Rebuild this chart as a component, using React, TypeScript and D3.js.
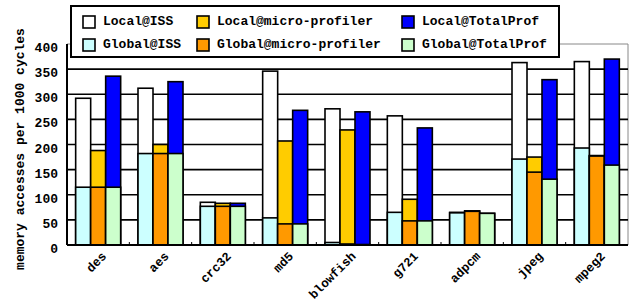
import React from 'react';
import * as d3 from 'd3';

const categories = ['des', 'aes', 'crc32', 'md5', 'blowfish', 'g721', 'adpcm', 'jpeg', 'mpeg2'];

// Local = full bar (drawn behind), Global = overlaid from the bottom
const localISS = [292, 312, 85, 346, 271, 257, 65, 363, 365];
const globalISS = [115, 182, 77, 54, 5, 65, 64, 171, 193];
const localMicro = [188, 200, 83, 207, 229, 91, 68, 175, 178];
const globalMicro = [115, 182, 77, 42, 2, 48, 67, 145, 177];
const localTotal = [336, 325, 83, 268, 265, 233, 63, 329, 370];
const globalTotal = [115, 182, 77, 42, 1, 48, 63, 131, 159];

const yTicks = [0, 50, 100, 150, 200, 250, 300, 350, 400];

const tools = [
  { local: localISS, global: globalISS, localName: 'Local@ISS', globalName: 'Global@ISS', localColor: '#ffffff', globalColor: '#ccffff' },
  { local: localMicro, global: globalMicro, localName: 'Local@micro-profiler', globalName: 'Global@micro-profiler', localColor: '#ffcc00', globalColor: '#ff9900' },
  { local: localTotal, global: globalTotal, localName: 'Local@TotalProf', globalName: 'Global@TotalProf', localColor: '#0000ff', globalColor: '#ccffcc' },
];

const font = "'Liberation Mono', 'DejaVu Sans Mono', monospace";

const App = () => {
  const width = 636;
  const height = 302;
  const margin = { top: 44, right: 8, bottom: 57, left: 67 };

  const x = d3
    .scaleBand()
    .domain(categories)
    .range([margin.left, width - margin.right])
    .padding(0);

  const y = d3
    .scaleLinear()
    .domain([0, 400])
    .range([height - margin.bottom, margin.top]);

  const barW = 15;
  const offset = (x.bandwidth() - barW * 3) / 2;

  const legendCols = [83, 197, 402];
  const legendRows = [16, 39];

  return (
    <div style={{ position: 'absolute', left: 0, top: 0 }}>
      <svg width={width} height={height} style={{ display: 'block', background: '#fff' }}>
        {/* frame */}
        <line x1={x.range()[0]} x2={x.range()[1]} y1={y(400)} y2={y(400)} stroke="#888" strokeWidth={1} />
        <line x1={x.range()[1]} x2={x.range()[1]} y1={y(400)} y2={y(0)} stroke="#888" strokeWidth={1} />

        {/* gridlines */}
        {yTicks.filter((t) => t > 0 && t < 400).map((t) => (
          <line key={t} x1={x.range()[0]} x2={x.range()[1]} y1={y(t)} y2={y(t)} stroke="#000" strokeWidth={1.6} />
        ))}

        {/* bars */}
        {categories.map((c, i) => (
          <g key={c}>
            {tools.map((tool, j) => {
              const bx = (x(c) as number) + offset + j * barW;
              return (
                <g key={j}>
                  <rect x={bx} y={y(tool.local[i])} width={barW} height={y(0) - y(tool.local[i])} fill={tool.localColor} stroke="#000" strokeWidth={1.6} />
                  <rect x={bx} y={y(tool.global[i])} width={barW} height={y(0) - y(tool.global[i])} fill={tool.globalColor} stroke="#000" strokeWidth={1.6} />
                </g>
              );
            })}
          </g>
        ))}

        {/* axes */}
        <line x1={x.range()[0]} x2={x.range()[1]} y1={y(0)} y2={y(0)} stroke="#000" strokeWidth={2} />
        <line x1={x.range()[0]} x2={x.range()[0]} y1={y(400)} y2={y(0)} stroke="#000" strokeWidth={2} />
        {categories.slice(1).map((c) => (
          <line key={c} x1={x(c) as number} x2={x(c) as number} y1={y(0)} y2={y(0) - 3} stroke="#000" strokeWidth={1} />
        ))}

        {yTicks.map((t) => (
          <text key={t} x={58} y={y(t) + 4.5} textAnchor="end" dominantBaseline="central" fontFamily={font} fontWeight="bold" fontSize={13}>
            {t}
          </text>
        ))}

        {categories.map((c) => {
          const cx = (x(c) as number) + x.bandwidth() / 2 + 9;
          const cy = 257;
          return (
            <text key={c} x={cx} y={cy} textAnchor="end" transform={`rotate(-45, ${cx}, ${cy})`} fontFamily={font} fontWeight="bold" fontSize={12.5}>
              {c}
            </text>
          );
        })}

        <text x={0} y={0} transform="translate(24, 149) rotate(-90)" textAnchor="middle" fontFamily={font} fontWeight="bold" fontSize={13}>
          memory accesses per 1000 cycles
        </text>

        {/* legend */}
        <rect x={71} y={6} width={488} height={51} fill="#fff" stroke="#000" strokeWidth={2} />
        {tools.map((tool, j) => (
          <g key={j}>
            {[
              { name: tool.localName, color: tool.localColor },
              { name: tool.globalName, color: tool.globalColor },
            ].map((e, r) => (
              <g key={r}>
                <rect x={legendCols[j]} y={legendRows[r]} width={12} height={12} fill={e.color} stroke="#000" strokeWidth={1.6} />
                <text x={legendCols[j] + 20} y={legendRows[r] + 5.5} dominantBaseline="central" fontFamily={font} fontWeight="bold" fontSize={13}>
                  {e.name}
                </text>
              </g>
            ))}
          </g>
        ))}
      </svg>
    </div>
  );
};

export default App;
